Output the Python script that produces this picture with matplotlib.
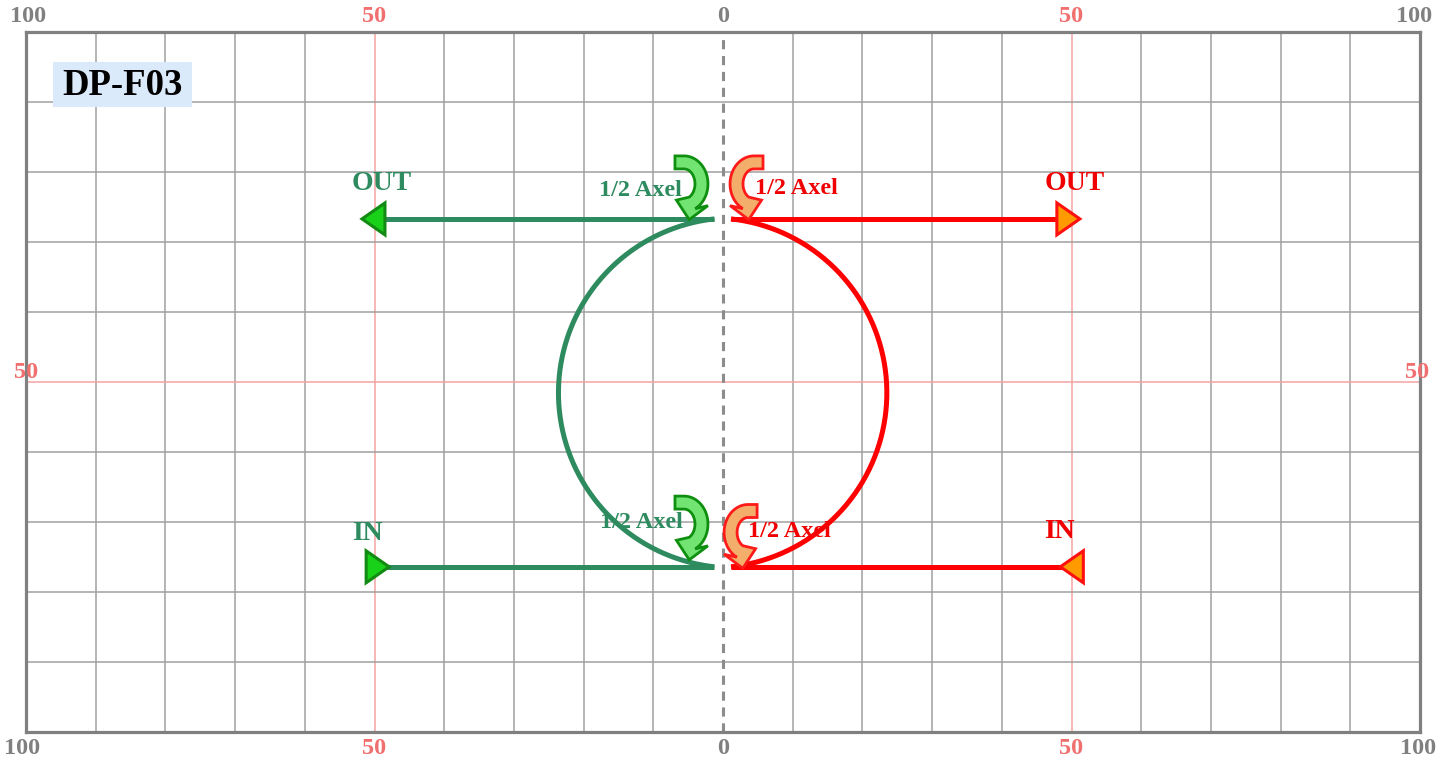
import numpy as np
import matplotlib.pyplot as plt
from matplotlib.patches import Polygon, Rectangle

# ---------------- data ----------------
x_tick_pos = [-100, -50, 0, 50, 100]
x_tick_labels = ["100", "50", "0", "50", "100"]
y_side_label = "50"
y_side_pos = 50

loop_cy = 48.45          # centre height of both loops
loop_r = 25.0            # loop radius
green_cx = 1.5           # green loop centre x
red_cx = -1.6            # red loop centre x
out_y = 73.3             # OUT line height
in_y = 23.6              # IN line height

green_out_tip = -51.8
green_in_tip = -47.9
red_out_tip = 51.2
red_in_tip = 48.4

labels_green = [("OUT", -49.0, 78.4), ("IN", -51.0, 28.3),
                ("1/2 Axel", -11.9, 77.4), ("1/2 Axel", -11.7, 29.9)]
labels_red = [("OUT", 50.4, 78.4), ("IN", 48.2, 28.7),
              ("1/2 Axel", 10.6, 77.7), ("1/2 Axel", 9.6, 28.7)]
# curved "1/2 Axel" arrows: centre (x, y)
turn_green = [(-5.6, 78.3), (-5.6, 29.7)]
turn_red = [(4.45, 78.3), (3.6, 28.5)]
title = "DP-F03"

# ---------------- figure ----------------
W, H = 1455, 767
fig = plt.figure(figsize=(W / 100, H / 100), dpi=100)
L, B, AW, AH = 26, 35, 1394, 700
ax = fig.add_axes([L / W, B / H, AW / W, AH / H])
ax.set_xlim(-100, 100)
ax.set_ylim(0, 100)
ax.set_xticks([])
ax.set_yticks([])
for s in ax.spines.values():
    s.set_color("#808080")
    s.set_linewidth(2.3)

sx = 200 / AW   # data units per pixel
sy = 100 / AH

GRID = "#a0a0a0"
PINK = "#f5a3a3"
for x in range(-90, 100, 10):
    if x == 0:
        ax.axvline(x, color="#8c8c8c", lw=2.2, ls=(0, (3, 2.2)), zorder=1)
    elif abs(x) == 50:
        ax.axvline(x, color=PINK, lw=1.1, zorder=0.5)
    else:
        ax.axvline(x, color=GRID, lw=1.1, zorder=0.5)
for y in range(10, 100, 10):
    ax.axhline(y, color=PINK if y == 50 else GRID, lw=1.1, zorder=0.5)

serif = ["Liberation Serif", "DejaVu Serif"]
GRAY_T = "#808080"
RED_T = "#f07070"
TFS = 17.5
xt = ax.get_xaxis_transform()
top_shift = {-100: 0.3, 100: -0.8}
bot_shift = {-100: -0.6, 100: -0.3}
for p, t in zip(x_tick_pos, x_tick_labels):
    c = RED_T if t == "50" else GRAY_T
    ax.text(p + top_shift.get(p, 0), 1 + 15 / AH, t, transform=xt, ha="center",
            va="center", fontsize=TFS, fontweight="bold", family=serif, color=c,
            clip_on=False)
    ax.text(p + bot_shift.get(p, 0), -17 / AH, t, transform=xt, ha="center",
            va="center", fontsize=TFS, fontweight="bold", family=serif, color=c,
            clip_on=False)
ax.text(-100, y_side_pos + 1.3, y_side_label, ha="center", va="center",
        fontsize=TFS, fontweight="bold", family=serif, color=RED_T, clip_on=False)
ax.text(99.6, y_side_pos + 1.3, y_side_label, ha="center", va="center",
        fontsize=TFS, fontweight="bold", family=serif, color=RED_T, clip_on=False)

# title box
ax.add_patch(Rectangle((-96.1, 89.3), 19.9, 6.4, fc="#dbeafb", ec="none", zorder=4))
ax.text(-86.2, 92.3, title, ha="center", va="center", fontsize=26.5,
        fontweight="bold", family=serif, color="black", zorder=5)

GREEN = "#2e8b5f"
RED = "#ff0000"
LW = 3.6


def loop(cx, side, color):
    rxd = (loop_r / sy) * sx   # circle in pixels
    ryd = loop_r
    a_top = np.arcsin(np.clip((out_y - loop_cy) / ryd, -1, 1))
    a_bot = np.arcsin(np.clip((in_y - loop_cy) / ryd, -1, 1))
    if side < 0:
        t = np.linspace(np.pi - a_top, np.pi - a_bot, 300)
    else:
        t = np.linspace(a_top, a_bot, 300)
    xs = cx + rxd * np.cos(t)
    ys = loop_cy + ryd * np.sin(t)
    ax.plot(xs, ys, color=color, lw=LW, solid_capstyle="butt", zorder=3)
    return xs[0], xs[-1]


gx_top, gx_bot = loop(green_cx, -1, GREEN)
rx_top, rx_bot = loop(red_cx, 1, RED)


def tri(tip_x, y, direction, fc, ec):
    length = 23 * sx
    half = 16 * sy
    base = tip_x - direction * length
    poly = Polygon([[tip_x, y], [base, y + half], [base, y - half]],
                   closed=True, fc=fc, ec=ec, lw=2.2, zorder=4, joinstyle="miter")
    ax.add_patch(poly)
    return base


b = tri(green_out_tip, out_y, -1, "#19d119", "#138a13")
ax.plot([gx_top, b], [out_y, out_y], color=GREEN, lw=LW, zorder=3, solid_capstyle="butt")
tri(green_in_tip, in_y, 1, "#19d119", "#138a13")
ax.plot([gx_bot, green_in_tip - 1], [in_y, in_y], color=GREEN, lw=LW, zorder=3, solid_capstyle="butt")
b = tri(red_out_tip, out_y, 1, "#ff9a00", "#ff1010")
ax.plot([rx_top, b], [out_y, out_y], color=RED, lw=LW, zorder=3, solid_capstyle="butt")
tri(red_in_tip, in_y, -1, "#ff9a00", "#ff1010")
ax.plot([rx_bot, red_in_tip + 1], [in_y, in_y], color=RED, lw=LW, zorder=3, solid_capstyle="butt")


def turn_arrow(cx, cy, mirror, fc, ec):
    rxo, ryo, rxi, ryi = 24, 28, 11, 15
    ext = 9
    te = np.deg2rad(-62)
    phi = np.deg2rad(-100)
    hw, hl = 16, 17
    th = np.linspace(np.pi / 2, te, 40)
    outer = [(-ext, ryo)] + [(rxo * np.cos(t), ryo * np.sin(t)) for t in th]
    inner = [(rxi * np.cos(t), ryi * np.sin(t)) for t in th[::-1]] + [(-ext, ryi)]
    po = np.array(outer[-1])
    pi_ = np.array(inner[0])
    m = (po + pi_) / 2
    d = np.array([np.cos(phi), np.sin(phi)])
    n = np.array([-d[1], d[0]])
    if np.dot(po - m, n) < 0:
        n = -n
    bo = m + n * hw
    bi = m - n * hw
    tip = m + d * hl
    pts = outer + [tuple(bo), tuple(tip), tuple(bi)] + inner
    pts = np.array(pts, dtype=float)
    pts[:, 0] *= mirror
    xy = np.column_stack([cx + pts[:, 0] * sx, cy + pts[:, 1] * sy])
    ax.add_patch(Polygon(xy, closed=True, fc=fc, ec=ec, lw=2.0, zorder=4,
                         joinstyle="miter"))


for cx, cy in turn_green:
    turn_arrow(cx, cy, 1, "#72e472", "#0f8f0f")
for cx, cy in turn_red:
    turn_arrow(cx, cy, -1, "#f2ae6a", "#ff1a1a")

for t, x, y in labels_green:
    fs = 20 if t in ("OUT", "IN") else 17.5
    ax.text(x, y, t, ha="center", va="center", fontsize=fs, fontweight="bold",
            family=serif, color=GREEN, zorder=6)
for t, x, y in labels_red:
    fs = 20 if t in ("OUT", "IN") else 17.5
    ax.text(x, y, t, ha="center", va="center", fontsize=fs, fontweight="bold",
            family=serif, color="#f00000", zorder=6)

fig.savefig("out.png", dpi=100)
